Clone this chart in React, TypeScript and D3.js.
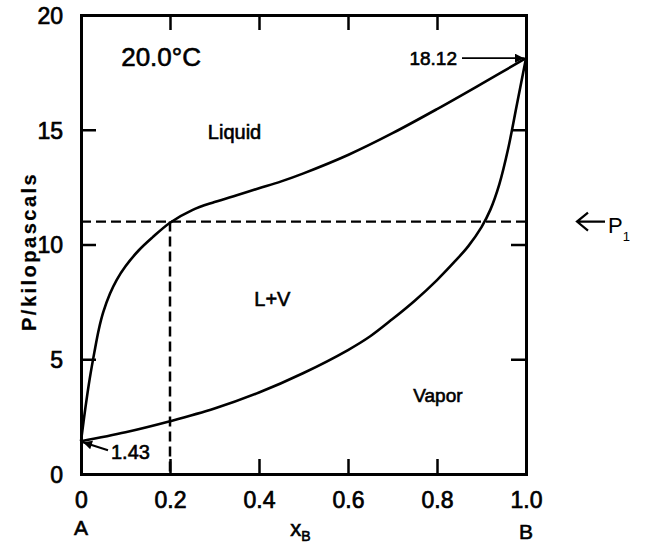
import { useEffect, useRef } from "react";
import * as d3 from "d3";

const WIDTH = 646;
const HEIGHT = 552;
const MARGIN = { top: 15, right: 120, bottom: 78, left: 81 };

// liquid (bubble point) curve: [x_B, P in kPa]
const liquidCurve = [
  [0, 1.43], [0.01, 2.9], [0.02, 4.2], [0.03, 5.3], [0.04, 6.3], [0.05, 7.05],
  [0.065, 7.85], [0.08, 8.45], [0.1, 9.05], [0.13, 9.75], [0.16, 10.3],
  [0.2, 10.95], [0.25, 11.5], [0.3, 11.85], [0.35, 12.15], [0.4, 12.45],
  [0.45, 12.75], [0.5, 13.1], [0.6, 13.9], [0.7, 14.85], [0.8, 15.9],
  [0.9, 17.0], [1, 18.12],
];

// vapor (dew point) curve
const vaporCurve = [
  [0, 1.43], [0.1, 1.82], [0.2, 2.3], [0.3, 2.85], [0.4, 3.55], [0.5, 4.4],
  [0.6, 5.4], [0.65, 6.0], [0.7, 6.75], [0.75, 7.55], [0.8, 8.45], [0.84, 9.26],
  [0.87, 9.92], [0.9, 10.76], [0.92, 11.52], [0.94, 12.62], [0.96, 14.18],
  [0.98, 16.14], [1, 18.12],
];

const xTicks = [0, 0.2, 0.4, 0.6, 0.8, 1.0];
const xTickLabels = ["0", "0.2", "0.4", "0.6", "0.8", "1.0"];
const yTicks = [0, 5, 10, 15, 20];

const pA = 1.43;
const pB = 18.12;
const p1 = 11;
const x1 = 0.2;

const FONT = "'Liberation Sans', Arial, sans-serif";

export default function App() {
  const axesRef = useRef<SVGGElement>(null);
  const boundsWidth = WIDTH - MARGIN.left - MARGIN.right;
  const boundsHeight = HEIGHT - MARGIN.top - MARGIN.bottom;

  const xScale = d3.scaleLinear().domain([0, 1]).range([0, boundsWidth]);
  const yScale = d3.scaleLinear().domain([0, 20]).range([boundsHeight, 0]);

  useEffect(() => {
    const g = d3.select(axesRef.current);
    g.selectAll("*").remove();
    const tl = 15;

    const bottom = g.append("g").attr("transform", `translate(0,${boundsHeight})`)
      .call(d3.axisBottom(xScale).tickValues(xTicks).tickSize(-tl).tickFormat((_, i) => xTickLabels[i]).tickPadding(18));
    const top = g.append("g")
      .call(d3.axisTop(xScale).tickValues(xTicks.slice(1, -1)).tickSize(-tl).tickFormat(() => ""));
    const left = g.append("g")
      .call(d3.axisLeft(yScale).tickValues(yTicks).tickSize(-tl).tickPadding(18).tickFormat(d3.format("d")));
    const right = g.append("g").attr("transform", `translate(${boundsWidth},0)`)
      .call(d3.axisRight(yScale).tickValues(yTicks.slice(1, -1)).tickSize(-tl).tickFormat(() => ""));

    [bottom, top, left, right].forEach((a) => {
      a.select(".domain").attr("stroke-width", 3).attr("stroke", "#000");
      a.selectAll(".tick line").attr("stroke-width", 2.5).attr("stroke", "#000");
      a.selectAll("text").attr("font-family", FONT).attr("font-size", 23)
        .attr("fill", "#000").attr("stroke", "#000").attr("stroke-width", 0.7);
    });
    left.selectAll(".tick").filter((d) => d === 0 || d === 20).select("line").remove();
    bottom.selectAll(".tick").filter((d) => d === 0 || d === 1).select("line").remove();
    bottom.selectAll("text").attr("dy", "0.71em");
    left.selectAll("text").attr("dy", "0.36em");
  }, [boundsHeight, boundsWidth]);

  const line = d3.line<number[]>()
    .x((d) => xScale(d[0]))
    .y((d) => yScale(d[1]))
    .curve(d3.curveCatmullRom.alpha(0.5));

  const x0 = xScale(0);
  const xEnd = xScale(1);
  const yA = yScale(pA);
  const yB = yScale(pB);
  const yP1 = yScale(p1);

  return (
    <svg width={WIDTH} height={HEIGHT} style={{ position: "absolute", left: 0, top: 0, background: "#fff" }}>
      <defs>
        <marker id="arrBig" viewBox="0 0 10 10" refX="10" refY="5" markerWidth="15" markerHeight="9" orient="auto" markerUnits="userSpaceOnUse">
          <path d="M0,0 L10,5 L0,10 z" fill="#000" />
        </marker>
      </defs>
      <g transform={`translate(${MARGIN.left},${MARGIN.top})`}>
        <line x1={x0} x2={xEnd} y1={yP1} y2={yP1} stroke="#000" strokeWidth={2.2} strokeDasharray="10,5" />
        <line x1={xScale(x1)} x2={xScale(x1)} y1={yP1} y2={boundsHeight} stroke="#000" strokeWidth={2.5} strokeDasharray="10,5" />
        <path d={line(liquidCurve as number[][]) ?? ""} fill="none" stroke="#000" strokeWidth={2.6} />
        <path d={line(vaporCurve as number[][]) ?? ""} fill="none" stroke="#000" strokeWidth={2.6} />

        <line x1={xEnd - 64} x2={xEnd - 2} y1={yB} y2={yB} stroke="#000" strokeWidth={1.8} markerEnd="url(#arrBig)" />
        <line x1={x0 + 27} x2={x0 + 2} y1={yA + 9} y2={yA + 1} stroke="#000" strokeWidth={2} markerEnd="url(#arrBig)" />

        <g fontFamily={FONT} fill="#000" stroke="#000" strokeWidth={0.6}>
          <text x={xEnd - 69} y={yB} dy="0.36em" textAnchor="end" fontSize={19}>18.12</text>
          <text x={x0 + 30} y={yA + 11} dy="0.36em" fontSize={20}>1.43</text>
          <text x={xScale(0.18)} y={yScale(18.2)} dy="0.36em" textAnchor="middle" fontSize={26}>20.0°C</text>
          <text x={xScale(0.345)} y={yScale(14.9)} dy="0.36em" textAnchor="middle" fontSize={20}>Liquid</text>
          <text x={xScale(0.43)} y={yScale(7.65)} dy="0.36em" textAnchor="middle" fontSize={20}>L+V</text>
          <text x={xScale(0.802)} y={yScale(3.45)} dy="0.36em" textAnchor="middle" fontSize={19}>Vapor</text>
          <text x={x0} y={boundsHeight + 61} textAnchor="middle" fontSize={21}>A</text>
          <text x={xEnd} y={boundsHeight + 65} textAnchor="middle" fontSize={21}>B</text>
          <text x={xScale(0.493)} y={boundsHeight + 62} textAnchor="middle" fontSize={22}>
            x<tspan fontSize={14} dy="5">B</tspan>
          </text>
          <text transform={`translate(${29 - MARGIN.left},${yScale(9.7)}) rotate(-90)`} textAnchor="middle" dy="0.36em"
            fontSize={20} fontWeight="bold" letterSpacing={2.5} strokeWidth={0.2}>
            P/kilopascals
          </text>
        </g>

        <path d={`M${xEnd + 79},${yP1} L${xEnd + 52},${yP1} M${xEnd + 62},${yP1 - 9} L${xEnd + 51},${yP1} L${xEnd + 62},${yP1 + 9}`}
          fill="none" stroke="#000" strokeWidth={2.2} />
        <text x={xEnd + 82} y={yP1 + 11} fontFamily={FONT} fontSize={22} fill="#000">
          P<tspan fontSize={13} dy="8">1</tspan>
        </text>

        <g ref={axesRef} />
      </g>
    </svg>
  );
}
